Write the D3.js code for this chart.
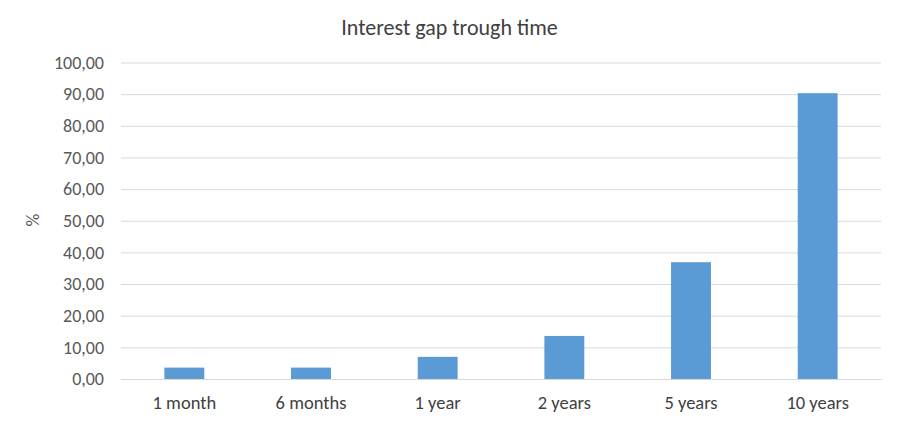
<!DOCTYPE html>
<html><head><meta charset="utf-8">
<script src="https://cdn.jsdelivr.net/npm/d3@7"></script>
<style>body{margin:0;background:#fff;} text{font-family:Carlito, Lato, "Open Sans", sans-serif;}</style>
</head><body>
<svg id="c" width="899" height="427"></svg>
<script>
const categories = ["1 month","6 months","1 year","2 years","5 years","10 years"];
const values = [3.6, 3.6, 7.0, 13.6, 36.9, 90.3];
const yTicks = [0,10,20,30,40,50,60,70,80,90,100];
const title = "Interest gap trough time";
const yLabel = "%";

const svg = d3.select("#c");
const m = {left:121, right:881, top:62.5, bottom:379};
const x = d3.scaleBand().domain(categories).range([m.left, m.right]).paddingInner(0.685).paddingOuter(0.3425);
const y = d3.scaleLinear().domain([0,100]).range([m.bottom, m.top]);
const fmt = d => d3.format(".2f")(d).replace(".", ",");

const grid = svg.append("g").attr("transform", `translate(${m.left},0)`)
  .call(d3.axisLeft(y).tickValues(yTicks).tickSize(-(m.right-m.left)).tickFormat(fmt).tickPadding(17));
grid.select(".domain").remove();
grid.selectAll(".tick line").attr("stroke", "#d9d9d9").attr("stroke-width", 1);
grid.selectAll(".tick text").attr("fill", "#595959").style("font-size", "18px");

svg.append("g").selectAll("rect").data(values).join("rect")
  .attr("x", (d,i) => x(categories[i]))
  .attr("width", x.bandwidth())
  .attr("y", d => y(d))
  .attr("height", d => y(0) - y(d))
  .attr("fill", "#5B9BD5");

const xa = svg.append("g").attr("transform", `translate(0,${m.bottom})`)
  .call(d3.axisBottom(x).tickSize(0).tickPadding(17));
xa.select(".domain").attr("stroke", "#d9d9d9");
xa.selectAll(".tick text").attr("fill", "#404040").style("font-size", "18.5px");

svg.append("text").attr("x", 449.5).attr("y", 35).attr("text-anchor", "middle")
  .attr("fill", "#404040").style("font-size", "22px").text(title);

svg.append("text").attr("transform", "translate(39,220) rotate(-90)").attr("text-anchor", "middle")
  .attr("fill", "#595959").style("font-size", "18px").text(yLabel);
</script>
</body></html>
